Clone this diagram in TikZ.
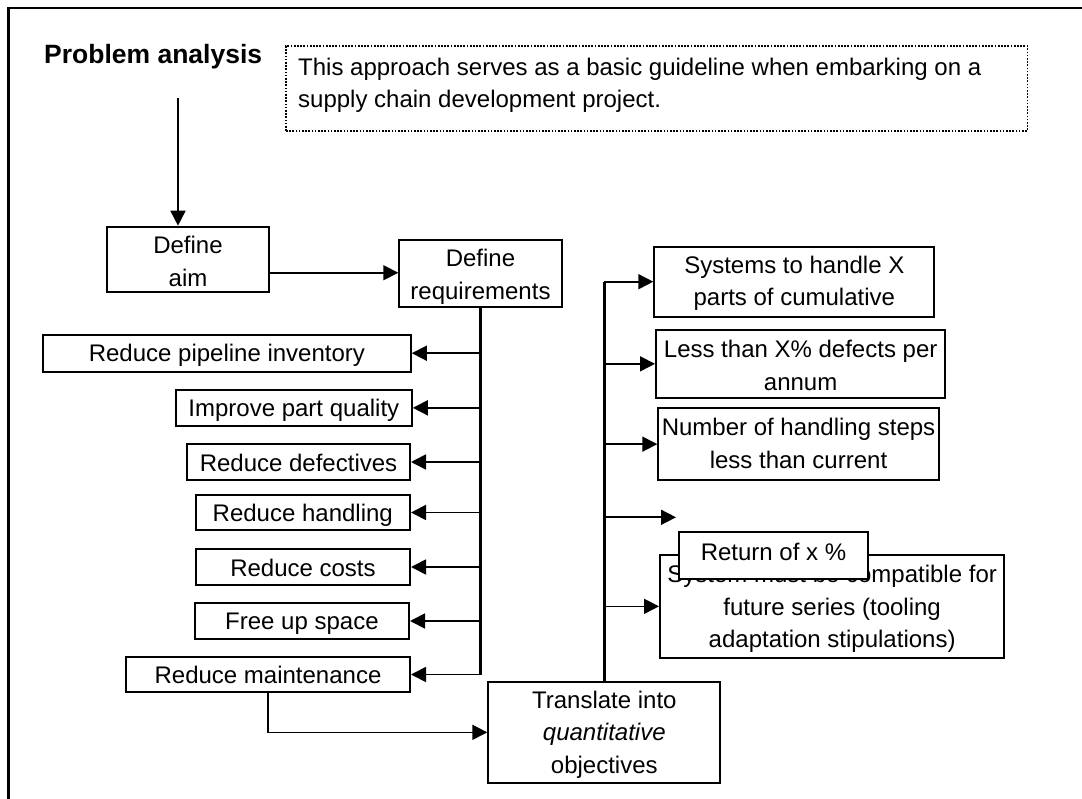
\documentclass[tikz,border=0pt]{standalone}
\usepackage{fontspec}
\setmainfont{Liberation Sans}
\usetikzlibrary{arrows.meta,calc}

\tikzset{
  box/.style={draw, line width=2pt, inner sep=0pt, anchor=north west},
  notebox/.style={draw, line width=1.9pt, dash pattern=on 1.7pt off 1.5pt, inner sep=0pt, anchor=north west},
  txt/.style={inner sep=0pt, font=\fontsize{24}{32}\selectfont},
  heading/.style={inner sep=0pt, font=\fontsize{26.5}{32}\selectfont\bfseries},
  arr/.style={line width=1.7pt, -{Triangle[length=15pt,width=15pt]}},
  trunk/.style={line width=2.6pt},
  frame/.style={line width=2.6pt},
}

% Centred text lines inside a box, clipped to the box outline
\newcommand\boxlines[3]{%
  \begin{scope}
    \clip (#1.south west) rectangle (#1.north east);
    \foreach \boxline [count=\k from 0] in {#3} {
      \node[txt, anchor=base] at ($(#1.north)+(0,{#2+32.5*\k})$) {\boxline};
    }
  \end{scope}}

\begin{document}
\begin{tikzpicture}[x=1pt,y=-1pt]
\useasboundingbox (0,0) rectangle (1082,799);

% outer frame (top and left edges)
\draw[frame] (8.3,799) -- (8.3,8) -- (1082,8);

% heading and note
\node[heading, anchor=base west] (title) at (44,63.3) {Problem analysis};
\node[notebox, minimum width=741.5pt, minimum height=85pt] (note) at (285,45) {};
\node[txt, anchor=base west] (note1) at (298,75.7) {This approach serves as a basic guideline when embarking on a};
\node[txt, anchor=base west] (note2) at (298,107.7) {supply chain development project.};

% main steps
\node[box, minimum width=162.6pt, minimum height=65.3pt] (aim) at (105.7,225.7) {};
\boxlines{aim}{28.3}{Define,aim}
\node[box, minimum width=162.4pt, minimum height=66.4pt] (req) at (398.3,239.3) {};
\boxlines{req}{27.4}{Define,requirements}

% requirements
\node[box, minimum width=367.8pt, minimum height=37pt] (pipe) at (42,333.7) {};
\boxlines{pipe}{28}{Reduce pipeline inventory}
\node[box, minimum width=235.9pt, minimum height=35.7pt] (improve) at (174.9,389) {};
\boxlines{improve}{27.7}{Improve part quality}
\node[box, minimum width=223pt, minimum height=35.4pt] (defect) at (186,443.3) {};
\boxlines{defect}{28.4}{Reduce defectives}
\node[box, minimum width=214.4pt, minimum height=35.6pt] (handl) at (194.6,493.7) {};
\boxlines{handl}{28}{Reduce handling}
\node[box, minimum width=214pt, minimum height=35.4pt] (costs) at (195,548.3) {};
\boxlines{costs}{28.4}{Reduce costs}
\node[box, minimum width=214.1pt, minimum height=35.4pt] (space) at (193.9,602.3) {};
\boxlines{space}{27}{Free up space}
\node[box, minimum width=284pt, minimum height=35pt] (maint) at (125,656) {};
\boxlines{maint}{27.3}{Reduce maintenance}

% quantitative objectives
\node[box, minimum width=232pt, minimum height=100.7pt] (trans) at (487.3,681) {};
\boxlines{trans}{27.3}{Translate into,\textit{quantitative},objectives}
\node[box, minimum width=280pt, minimum height=70pt] (sys) at (653.3,245.7) {};
\boxlines{sys}{27.6}{Systems to handle X,parts of cumulative}
\node[box, minimum width=289.3pt, minimum height=67.7pt] (less) at (655,329) {};
\boxlines{less}{29}{Less than X\% defects per,annum}
\node[box, minimum width=280.4pt, minimum height=71.7pt] (num) at (657.3,407.3) {};
\boxlines{num}{28.4}{Number of handling steps,less than current}
\node[box, minimum width=344.3pt, minimum height=102.7pt] (must) at (659,554) {};
\boxlines{must}{28.7}{System must be compatible for,future series (tooling,adaptation stipulations)}
\node[box, fill=white, minimum width=188.4pt, minimum height=46.7pt] (ret) at (678.3,531) {};
\boxlines{ret}{29}{Return of x \%}

% connectors
\coordinate (start) at (178,98.3);
\draw[arr] (start) -- (start |- aim.north);
\coordinate (aimout) at ($(aim.east)+(0,13.4)$);
\draw[arr] (aimout) -- (aimout -| req.west);
\draw[trunk] (req.south) -- (req.south |- maint.east);
\foreach \t in {pipe,improve,defect,handl,costs,space,maint}
  \draw[arr] (req.south |- \t.east) -- (\t.east);
\draw[arr] (maint.south) |- (trans.west);
\draw[trunk] (trans.north) -- (trans.north |- sys.west);
\foreach \t in {sys,less,num,must}
  \draw[arr] (trans.north |- \t.west) -- (\t.west);
\coordinate (loose) at (676,517.3);
\draw[arr] (trans.north |- loose) -- (loose);
\end{tikzpicture}
\end{document}
